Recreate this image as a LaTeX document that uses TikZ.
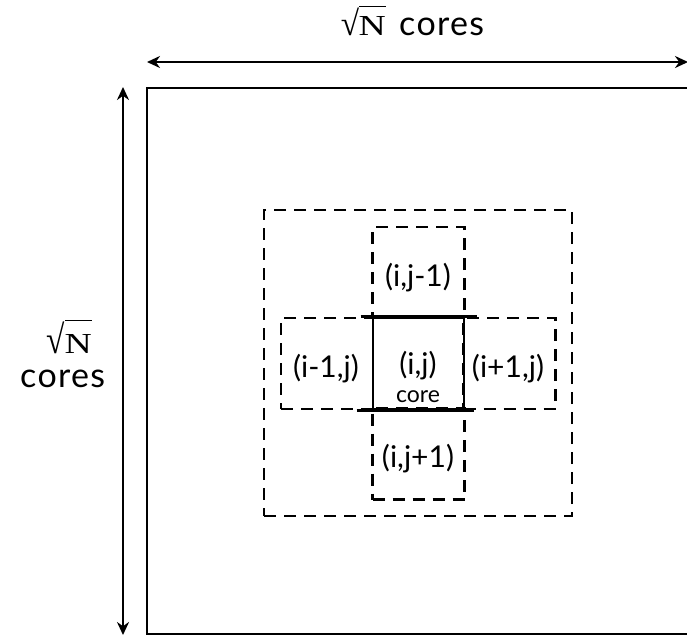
\documentclass[tikz,border=0pt]{standalone}
\usepackage{graphicx}
\usepackage{fontspec}
\setmainfont{Lato}
\newfontfamily\radfont{Liberation Serif}
\usetikzlibrary{arrows.meta}
\newcommand{\wideN}{\scalebox{1.3}[1]{N}}
\newcommand{\tallrad}[1]{\scalebox{1.15}[#1]{√}}
\begin{document}
\begin{tikzpicture}[x=1pt,y=-1pt,
  dashbox/.style={draw, dash pattern=on 12pt off 8pt, line width=2.3pt, minimum width=#1, minimum height=91pt, inner sep=0pt},
  solidbox/.style={draw, line width=2.6pt, minimum width=91pt, minimum height=91pt, inner sep=0pt},
  lbl/.style={font=\fontsize{30}{34}\selectfont, inner sep=0pt},
  bigtxt/.style={font=\fontsize{34}{38}\selectfont\addfontfeature{LetterSpace=4}, inner sep=0pt},
  radN/.style={font=\radfont\fontsize{29}{32}\selectfont, inner sep=0pt},
  radbar/.style={line width=1.6pt},
  dim/.style={line width=2.4pt, {Stealth[length=13pt,width=12pt]}-{Stealth[length=13pt,width=12pt]}}
]
\useasboundingbox (0,0) rectangle (687,638);
% outer square (right edge beyond the frame)
\draw[line width=2.4pt] (700,88) -- (147,88) -- (147,634) -- (700,634);
\coordinate (hl) at (147,62);
\coordinate (hr) at (688,62);
\coordinate (vt) at (123,87);
\coordinate (vb) at (123,635);
\draw[dim] (hl) -- (hr);
\draw[dim] (vt) -- (vb);
% top label
\node[radN, anchor=base east] (topn) at (386,35) {\wideN};
\node[radN, anchor=base east] (tops) at ([xshift=1pt]topn.base west) {\tallrad{1.2}};
\coordinate (topbar) at ([yshift=0.8pt]tops.north east);
\draw[radbar] (topbar) -- (topbar -| topn.east);
\node[bigtxt, anchor=base west] (topc) at (399,35) {cores};
% left label
\node[radN, anchor=base east] (leftn) at (92,353) {\wideN};
\node[radN, anchor=base east] (lefts) at ([xshift=1pt]leftn.base west) {\tallrad{1.38}};
\coordinate (leftbar) at ([yshift=0.8pt]lefts.north east);
\draw[radbar] (leftbar) -- (leftbar -| leftn.east);
\node[bigtxt, anchor=base west] (leftc) at (20,387) {cores};
% outer dashed region
\node[draw, dash pattern=on 12pt off 8pt, line width=2.3pt, minimum width=308pt, minimum height=306pt, inner sep=0pt] (region) at (418,363) {};
% neighbours
\node[dashbox=92pt] (up) at (418.5,272.5) {};
\node[dashbox=92pt] (down) at (418.5,454) {};
\node[dashbox=92pt] (west) at (327,363.5) {};
\node[dashbox=92pt] (east) at (509.5,363.5) {};
\node[solidbox] (core) at (418.5,363.5) {};
\draw[line width=2.6pt] ([xshift=-11pt]core.north west) -- ([xshift=12pt]core.north east);
\draw[line width=2.6pt] ([xshift=-15pt]core.south west) -- ([xshift=9pt]core.south east);
\node[lbl] (lup) at (418,278) {(i,j-1)};
\node[lbl] (ldown) at (418,459) {(i,j+1)};
\node[lbl] (lwest) at (326,369) {(i-1,j)};
\node[lbl] (least) at (508,369) {(i+1,j)};
\node[lbl] (lcore) at (418,366) {(i,j)};
\node[font=\fontsize{23}{27}\selectfont, inner sep=0pt, anchor=base] (lcorew) at (418,402) {core};
\end{tikzpicture}
\end{document}
